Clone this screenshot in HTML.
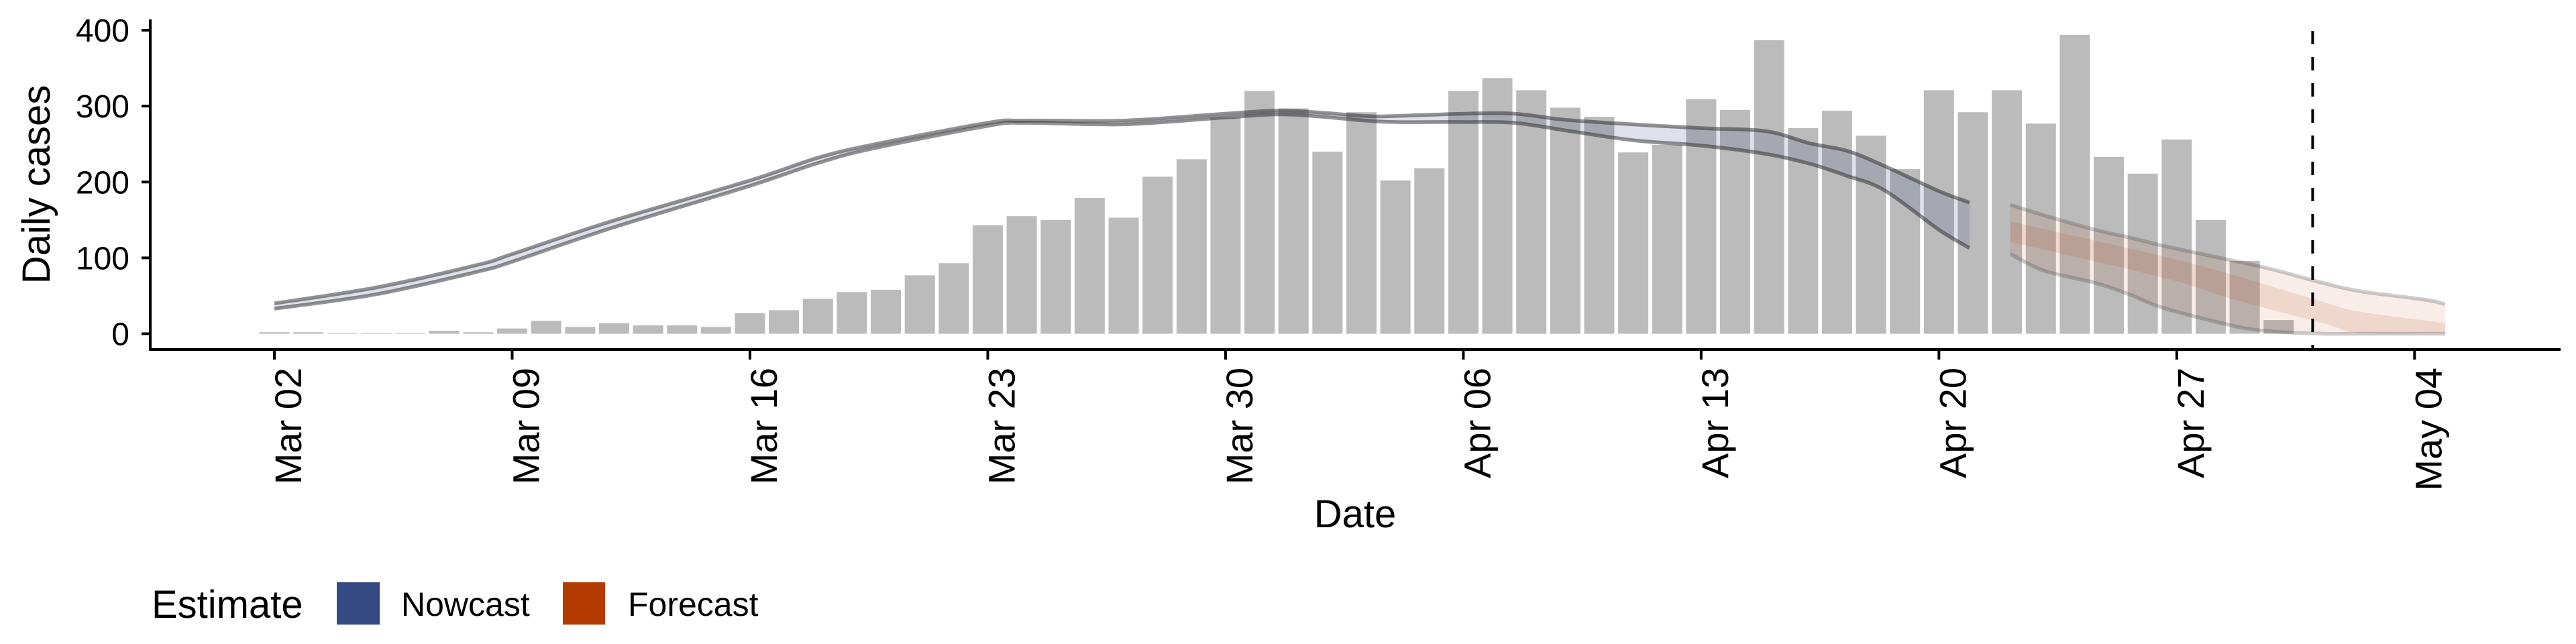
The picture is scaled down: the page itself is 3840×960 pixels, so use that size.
<!DOCTYPE html>
<html><head><meta charset="utf-8"><style>
html,body{margin:0;padding:0;background:#fff;}
svg{display:block;font-family:"Liberation Sans",sans-serif;}
</style></head><body>
<svg id="chart" width="3840" height="960" viewBox="0 0 3840 960" xmlns="http://www.w3.org/2000/svg"></svg>
<script>
// ---- data ----
const barValues = [2,2,1,1,1,4,2,7,17,9,14,11,11,9,27,31,46,55,58,77,93,143,155,150,179,153,207,230,285,320,297,240,292,202,218,320,337,321,298,286,239,249,309,295,387,271,294,261,217,321,292,321,277,394,233,211,256,150,96,18];
const nowDays  = [0,3,6,7,9.9,14,16,17.6,21,22.1,25,28,29.8,32.1,33,35,36.5,38,40,42,43.9,45.2,46.3,47.4,49,49.9];
const nowUpper = [40,61,91,105,148,202,232,249,278,281,281,290,294,287,287,290,290,282,276,271,267,251,241,221,188,173];
const nowLower = [33,52,82,95,139,195,225,244,274,278,276,285,289,281,279,279,278,268,255,248,237,224,208,189,137,113];
const fcDays   = [51.1,52.1,53.6,54.6,55.6,57.7,58.8,60.3,61.4,63.3,63.9];
const fcUpper  = [170,156,137,127,116,96,85,67,56,45,39];
const fcLower  = [105,83,67,52,34,10,3,0,0,0,0];
const fcInnerDays  = [51.1,55.6,57.7,60.3,61.4,63.9];
const fcInnerUpper = [148,102,77,42,29,14];
const fcInnerLower = [121,74,45,14,1,1];
const yTicks = [0,100,200,300,400];
const xTickDays = [0,7,14,21,28,35,42,49,56,63];
const xTickLabels = ["Mar 02","Mar 09","Mar 16","Mar 23","Mar 30","Apr 06","Apr 13","Apr 20","Apr 27","May 04"];
const forecastDateDay = 60;

// ---- scales ----
const X0 = 409, DAY = 50.64, Y0 = 497.5, PER = 1.131;
const x = d => X0 + d*DAY;
const y = v => Y0 - v*PER;
const svg = document.getElementById('chart');
const NS = 'http://www.w3.org/2000/svg';
function mk(tag, attrs, parent){ const e=document.createElementNS(NS,tag); for(const k in attrs) e.setAttribute(k,attrs[k]); (parent||svg).appendChild(e); return e; }

// smooth path through points (Catmull-Rom -> cubic bezier)
function smooth(pts, moveTo){
  let d = (moveTo?'M':'L')+pts[0][0]+','+pts[0][1];
  for(let i=0;i<pts.length-1;i++){
    const p0=pts[Math.max(0,i-1)], p1=pts[i], p2=pts[i+1], p3=pts[Math.min(pts.length-1,i+2)];
    const c1x=p1[0]+(p2[0]-p0[0])/6, c1y=p1[1]+(p2[1]-p0[1])/6;
    const c2x=p2[0]-(p3[0]-p1[0])/6, c2y=p2[1]-(p3[1]-p1[1])/6;
    d += ' C'+c1x+','+c1y+' '+c2x+','+c2y+' '+p2[0]+','+p2[1];
  }
  return d;
}
const pts = (days, vals) => days.map((t,i)=>[x(t), y(vals[i])]);

// bars
const gBars = mk('g',{});


barValues.forEach((v,i)=>{
  const b = mk('rect',{x:x(i)-22.5,y:y(v),width:45,height:Y0-y(v),fill:'#bbbbbb'},gBars);
  
  
});

function band(days, up, lo, fill, name){
  const d = smooth(pts(days,up), true) + ' ' + smooth(pts(days,lo).reverse(), false) + 'Z';
  const p = mk('path',{d:d,fill:fill,stroke:'none'});
  
  
}
function line(days, vals, stroke, name){
  const p = mk('path',{d:smooth(pts(days,vals), true),fill:'none',stroke:stroke,'stroke-width':5.5,'stroke-linejoin':'round'});
  
  
}
band(nowDays, nowUpper, nowLower, 'rgba(58,77,133,0.17)', 'nowcast-band');
line(nowDays, nowUpper, 'rgba(40,40,40,0.5)', 'nowcast-upper-line');
line(nowDays, nowLower, 'rgba(40,40,40,0.5)', 'nowcast-lower-line');
band(fcDays, fcUpper, fcLower, 'rgba(179,58,0,0.09)', 'forecast-band-90');
band(fcInnerDays, fcInnerUpper, fcInnerLower, 'rgba(179,58,0,0.12)', 'forecast-band-50');
line(fcDays, fcUpper, 'rgba(60,60,60,0.25)', 'forecast-upper-line');
line(fcDays, fcLower, 'rgba(60,60,60,0.25)', 'forecast-lower-line');

// dashed forecast-date line
const dl = mk('line',{x1:x(forecastDateDay),x2:x(forecastDateDay),y1:46,y2:521,stroke:'#000','stroke-width':4,'stroke-dasharray':'20 19'});



// axes
const ya = mk('line',{x1:224,x2:224,y1:29,y2:523,stroke:'#000','stroke-width':4});


const xa = mk('line',{x1:222,x2:3817,y1:521,y2:521,stroke:'#000','stroke-width':4});


yTicks.forEach(v=>{
  const t = mk('line',{x1:211,x2:224,y1:y(v),y2:y(v),stroke:'#000','stroke-width':4});
  
  
  const l = mk('text',{x:193,y:y(v)+17,'text-anchor':'end','font-size':48,fill:'#000'});
  l.textContent = v;
  
  
});
xTickDays.forEach((d,i)=>{
  const t = mk('line',{x1:x(d),x2:x(d),y1:521,y2:536,stroke:'#000','stroke-width':4});
  
  
  const l = mk('text',{x:0,y:0,'text-anchor':'end','font-size':56,fill:'#000',transform:'translate('+(x(d)+40)+',548) rotate(-90)'});
  l.textContent = xTickLabels[i];
  
  
});
const yt = mk('text',{x:0,y:0,'text-anchor':'middle','font-size':58,fill:'#000',transform:'translate(74,275) rotate(-90)'});
yt.textContent='Daily cases';


const xt = mk('text',{x:2020,y:786,'text-anchor':'middle','font-size':58,fill:'#000'});
xt.textContent='Date';



// legend
const lg = mk('g',{});


const lt = mk('text',{x:226,y:921,'font-size':58,fill:'#000'},lg);
lt.textContent='Estimate';


const k1 = mk('rect',{x:502,y:868,width:64,height:63,fill:'#354a82'},lg);


const t1 = mk('text',{x:598,y:918,'font-size':50,fill:'#000'},lg);
t1.textContent='Nowcast';


const k2 = mk('rect',{x:839,y:868,width:63,height:63,fill:'#b33a00'},lg);


const t2 = mk('text',{x:936,y:918,'font-size':50,fill:'#000'},lg);
t2.textContent='Forecast';


</script>
</body></html>
